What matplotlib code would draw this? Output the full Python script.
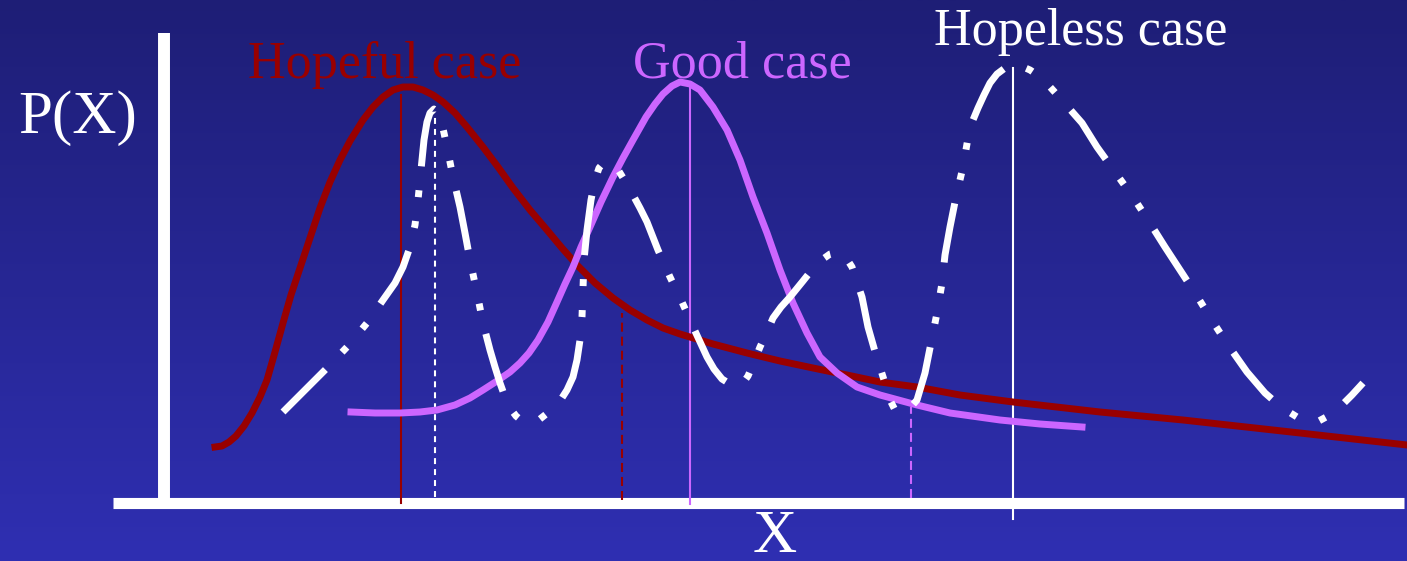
import numpy as np
import matplotlib
matplotlib.use("Agg")
import matplotlib.pyplot as plt
from matplotlib.colors import LinearSegmentedColormap

plt.rcParams["lines.scale_dashes"] = False

# curves: x position, height P above the X axis
hopeful_x = [215, 222, 229, 236, 244, 252, 260, 267, 275, 283, 291, 300, 310, 320,
             330, 340, 350, 363, 373, 383, 393, 403, 413, 423, 433, 443, 455, 467,
             483, 498, 513, 530, 547, 562, 577, 595, 613, 630, 647, 663, 680, 713,
             747, 780, 813, 847, 880, 917, 960, 1013, 1100, 1183, 1300, 1407]
hopeful_p = [56, 57, 61, 67, 77, 90, 106, 123, 151, 180, 208, 235, 265, 295,
             321, 343, 362, 383, 396, 406, 413, 416, 416, 413, 408, 401, 390, 376,
             356, 336, 315, 293, 273, 255, 238, 220, 205, 193, 183, 175, 169, 159,
             150, 142, 135, 128, 121, 116, 108, 101, 91, 83, 70, 58]

good_x = [351, 375, 400, 420, 437, 455, 470, 483, 497, 510, 520, 529, 538, 548,
          557, 565, 573, 581, 590, 601, 613, 623, 633, 646, 655, 663, 672, 680,
          690, 700, 713, 727, 740, 753, 767, 780, 793, 807, 820, 837, 857, 880,
          917, 950, 1000, 1040, 1082]
good_p = [91, 90, 90, 91, 93, 98, 105, 113, 122, 131, 140, 150, 163, 181,
          201, 219, 236, 256, 276, 301, 326, 345, 363, 386, 399, 409, 417, 421,
          419, 413, 396, 373, 343, 306, 270, 233, 200, 170, 146, 130, 116, 108,
          98, 90, 83, 79, 76]

hopeless_x = [283, 305, 327, 347, 367, 383, 395, 403, 410, 415, 418, 421, 424, 427,
              430, 434, 438, 441, 444, 447, 453, 460, 465, 470, 477, 483, 490, 495,
              500, 505, 510, 516, 522, 530, 540, 550, 560, 567, 573, 577, 580, 582,
              583, 584, 587, 591, 595, 599, 604, 610, 617, 625, 633, 640, 647, 658,
              670, 682, 695, 707, 714, 722, 730, 737, 743, 748, 754, 760, 767, 773,
              781, 790, 803, 815, 823, 830, 838, 845, 852, 862, 868, 876, 885, 890,
              895, 903, 910, 917, 925, 931, 937, 942, 945, 950, 956, 963, 968, 973,
              978, 984, 990, 997, 1005, 1013, 1021, 1030, 1042, 1060, 1082, 1097, 1115,
              1133, 1148, 1165, 1180, 1197, 1213, 1228, 1247, 1265, 1281, 1297, 1307,
              1317, 1328, 1340, 1352, 1363]
hopeless_p = [91, 113, 135, 156, 180, 203, 220, 236, 256, 278, 303, 333, 363, 381,
              390, 394, 391, 383, 370, 356, 326, 296, 270, 243, 210, 180, 153, 136,
              120, 106, 95, 87, 82, 80, 84, 92, 102, 113, 126, 143, 163, 186,
              213, 243, 273, 303, 323, 335, 341, 340, 335, 322, 308, 295, 281, 253,
              226, 201, 172, 146, 134, 124, 119, 117, 120, 127, 141, 156, 171, 185,
              196, 206, 222, 237, 244, 249, 251, 247, 236, 206, 176, 148, 120, 103,
              93, 90, 95, 103, 130, 160, 190, 220, 248, 276, 306, 336, 365, 383,
              395, 408, 420, 429, 435, 438, 437, 433, 425, 405, 380, 356, 331,
              306, 283, 256, 233, 207, 181, 158, 131, 110, 96, 86, 82,
              81, 87, 96, 108, 120]

# thin guide lines under the peaks and tails
guide_x = [401, 435, 622, 690, 911, 1013]
guide_top = [408, 386, 190, 416, 96, 435]
guide_bottom = [0, 6, 3, -1, 5, -16]

dark_red = "#990000"
violet = "#cc66ff"
guide_colors = [dark_red, "white", dark_red, violet, violet, "white"]
guide_styles = ["-", (0, (4.3, 3.6)), (0, (6.5, 3.6)), "-", (0, (6.5, 3.6)), "-"]

fig = plt.figure(figsize=(14.07, 5.61), dpi=100)
ax = fig.add_axes([0, 0, 1, 1])
ax.set_xlim(0, 1407)
ax.set_ylim(-58, 503)

# blue background, darker at the top
bg = LinearSegmentedColormap.from_list("bg", ["#1e1e76", "#2f2fb2"])
ax.imshow(np.linspace(0, 1, 256).reshape(-1, 1), cmap=bg, aspect="auto",
          extent=[0, 1407, -58, 503], origin="upper", zorder=0)

for s in ["top", "right"]:
    ax.spines[s].set_visible(False)
ax.spines["left"].set_position(("data", 164))
ax.spines["left"].set_bounds(0, 470)
ax.spines["left"].set_linewidth(8.6)
ax.spines["bottom"].set_position(("data", 0))
ax.spines["bottom"].set_bounds(113, 1404)
ax.spines["bottom"].set_linewidth(8)
for s in ["left", "bottom"]:
    ax.spines[s].set_color("white")
    ax.spines[s].set_capstyle("butt")
    ax.spines[s].set_zorder(1.5)
ax.set_xticks([])
ax.set_yticks([])

for gx, gt, gb, c, ls in zip(guide_x, guide_top, guide_bottom, guide_colors, guide_styles):
    ax.plot([gx, gx], [gb, gt], color=c, lw=1.5, linestyle=ls, zorder=2)

ax.plot(hopeful_x, hopeful_p, color=dark_red, lw=5, solid_joinstyle="round", zorder=3)
ax.plot(good_x, good_p, color=violet, lw=5, solid_joinstyle="round", zorder=4)
ax.plot(hopeless_x, hopeless_p, color="white", lw=5, dash_capstyle="butt",
        dash_joinstyle="round", linestyle=(0, (43.2, 17.3, 5.0, 17.3, 5.0, 17.3)), zorder=5)

serif = "Liberation Serif"
ax.text(385, 425, "Hopeful case", color=dark_red, fontsize=37.5, family=serif, ha="center", va="baseline")
ax.text(742, 426, "Good case", color=violet, fontsize=37.5, family=serif, ha="center", va="baseline")
ax.text(1081, 458, "Hopeless case", color="white", fontsize=37.5, family=serif, ha="center", va="baseline")
ax.text(78, 370, "P(X)", color="white", fontsize=44, family=serif, ha="center", va="baseline")
ax.text(775, -49, "X", color="white", fontsize=44, family=serif, ha="center", va="baseline")

fig.savefig("out.png", dpi=100)
